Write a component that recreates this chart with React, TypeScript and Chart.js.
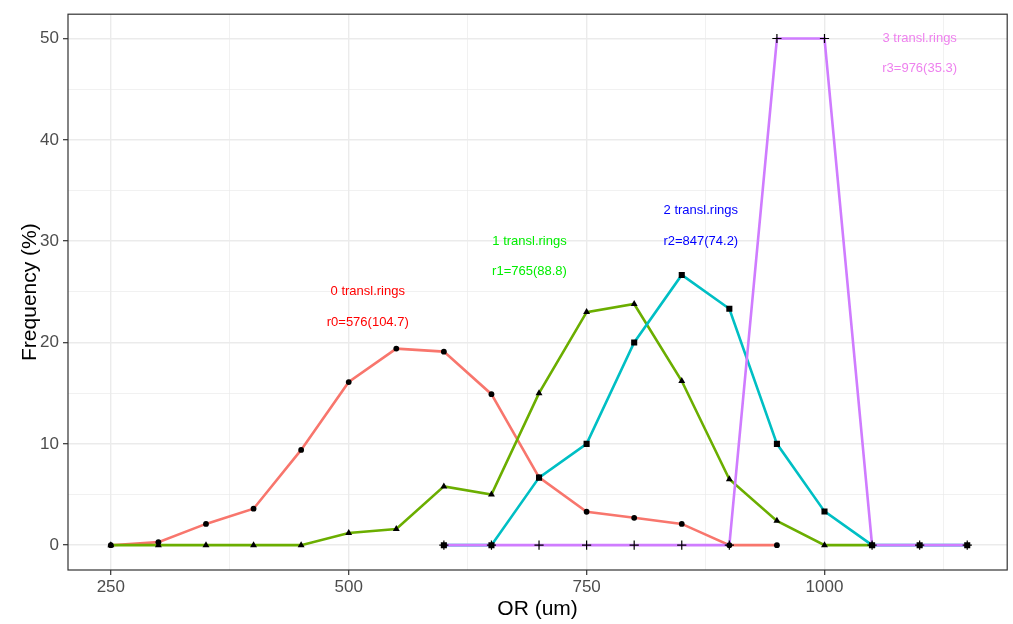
import React, { useEffect, useRef } from "react";
import { Chart, registerables } from "chart.js";

Chart.register(...registerables);

const xValues0 = [250, 300, 350, 400, 450, 500, 550, 600, 650, 700, 750, 800, 850, 900, 950];
const ring0 = [0, 0.3, 2.1, 3.6, 9.4, 16.1, 19.4, 19.1, 14.9, 6.7, 3.3, 2.7, 2.1, 0, 0];

const xValues1 = [250, 300, 350, 400, 450, 500, 550, 600, 650, 700, 750, 800, 850, 900, 950, 1000, 1050];
const ring1 = [0, 0, 0, 0, 0, 1.2, 1.6, 5.8, 5.0, 15.0, 23.0, 23.8, 16.2, 6.5, 2.4, 0, 0];

const xValues2 = [600, 650, 700, 750, 800, 850, 900, 950, 1000, 1050, 1100, 1150];
const ring2 = [0, 0, 6.67, 10, 20, 26.67, 23.33, 10, 3.33, 0, 0, 0];

const xValues3 = [600, 650, 700, 750, 800, 850, 900, 950, 1000, 1050, 1100, 1150];
const ring3 = [0, 0, 0, 0, 0, 0, 0, 50, 50, 0, 0, 0];

const seriesColors = ["#F8766D", "#6BAE00", "#00BFC4", "#CF7CFF"];
const pointStyles = ["circle", "triangle", "rect", "cross"];

const xMajorTicks = [250, 500, 750, 1000];
const xAllTicks = [250, 375, 500, 625, 750, 875, 1000, 1125];
const yAllTicks = [0, 5, 10, 15, 20, 25, 30, 35, 40, 45, 50];
const yMajorTicks = [0, 10, 20, 30, 40, 50];

const labelTitles = ["0 transl.rings", "1 transl.rings", "2 transl.rings", "3 transl.rings"];
const labelStats = ["r0=576(104.7)", "r1=765(88.8)", "r2=847(74.2)", "r3=976(35.3)"];
const labelX = [520, 690, 870, 1100];
const labelTitleY = [25, 30, 33, 50];
const labelStatY = [22, 27, 30, 47];
const labelColors = ["#FF0000", "#00EE00", "#0000FF", "#EE82EE"];

const FONT = "'Liberation Sans', Arial, sans-serif";

const toPts = (xs: number[], ys: number[]) => xs.map((x, i) => ({ x, y: ys[i] }));

export default function App() {
  const ref = useRef<HTMLCanvasElement | null>(null);

  useEffect(() => {
    if (!ref.current) return;
    const allX = [xValues0, xValues1, xValues2, xValues3];
    const allY = [ring0, ring1, ring2, ring3];

    const lineSets = allX.map((xs, i) => ({
      data: toPts(xs, allY[i]),
      showLine: true,
      borderColor: seriesColors[i],
      backgroundColor: seriesColors[i],
      borderWidth: 2.6,
      pointRadius: 0,
      tension: 0,
      fill: false,
      order: 10 - i,
    }));
    const pointSets = allX.map((xs, i) => ({
      data: toPts(xs, allY[i]),
      showLine: false,
      pointStyle: pointStyles[i],
      pointRadius: i === 0 ? 2.9 : i === 1 ? 4.0 : i === 2 ? 4.3 : 4.6,
      pointBackgroundColor: "#000000",
      pointBorderColor: "#000000",
      pointBorderWidth: i === 3 ? 1.2 : 0,
      order: 4 - i,
    }));

    const panelPlugin = {
      id: "panel",
      afterDatasetsDraw(chart: any) {
        const { ctx, chartArea, scales } = chart;
        ctx.save();
        ctx.textAlign = "center";
        ctx.textBaseline = "middle";
        ctx.font = `13px ${FONT}`;
        for (let i = 0; i < labelTitles.length; i++) {
          ctx.fillStyle = labelColors[i];
          const px = scales.x.getPixelForValue(labelX[i]);
          ctx.fillText(labelTitles[i], px, scales.y.getPixelForValue(labelTitleY[i]));
          ctx.fillText(labelStats[i], px, scales.y.getPixelForValue(labelStatY[i]));
        }
        ctx.strokeStyle = "#333333";
        ctx.lineWidth = 1.2;
        ctx.strokeRect(chartArea.left, chartArea.top, chartArea.right - chartArea.left, chartArea.bottom - chartArea.top);
        ctx.restore();
      },
    };

    const chart = new Chart(ref.current, {
      type: "scatter",
      data: { datasets: [...lineSets, ...pointSets] as any },
      options: {
        animation: false,
        responsive: false,
        layout: { padding: { left: 0, top: 10, right: 5, bottom: 0 } },
        plugins: { legend: { display: false }, tooltip: { enabled: false } },
        scales: {
          x: {
            type: "linear",
            min: 205,
            max: 1192,
            afterBuildTicks: (s: any) => {
              s.ticks = xAllTicks.map((v) => ({ value: v }));
            },
            afterFit: (s: any) => {
              s.height = 54;
            },
            ticks: {
              autoSkip: false,
              maxRotation: 0,
              padding: 2,
              color: "#4D4D4D",
              font: { family: FONT, size: 17 },
              callback: (v: any) => (xMajorTicks.includes(Number(v)) ? String(v) : ""),
            },
            grid: {
              color: "#EBEBEB",
              lineWidth: (c: any) => (xMajorTicks.includes(c.tick?.value) ? 1.4 : 0.7),
              tickColor: (c: any) => (xMajorTicks.includes(c.tick?.value) ? "#333333" : "rgba(0,0,0,0)"),
              tickLength: 5,
              tickWidth: 1.2,
            },
            border: { display: false },
            title: {
              display: true,
              text: "OR (um)",
              color: "#000000",
              font: { family: FONT, size: 21 },
              padding: { top: 0, bottom: 2 },
            },
          },
          y: {
            type: "linear",
            min: -2.45,
            max: 52.4,
            afterBuildTicks: (s: any) => {
              s.ticks = yAllTicks.map((v) => ({ value: v }));
            },
            afterFit: (s: any) => {
              s.width = 68;
            },
            ticks: {
              autoSkip: false,
              padding: 4,
              color: "#4D4D4D",
              font: { family: FONT, size: 17 },
              callback: (v: any) => (yMajorTicks.includes(Number(v)) ? String(v) : ""),
            },
            grid: {
              color: "#EBEBEB",
              lineWidth: (c: any) => (yMajorTicks.includes(c.tick?.value) ? 1.4 : 0.7),
              tickColor: (c: any) => (yMajorTicks.includes(c.tick?.value) ? "#333333" : "rgba(0,0,0,0)"),
              tickLength: 5,
              tickWidth: 1.2,
            },
            border: { display: false },
            title: {
              display: true,
              text: "Frequency (%)",
              color: "#000000",
              font: { family: FONT, size: 21 },
              padding: { top: 18, bottom: 0 },
            },
          },
        },
      },
      plugins: [panelPlugin],
    });
    return () => chart.destroy();
  }, []);

  return (
    <div style={{ position: "absolute", left: 0, top: 0, width: 1013, height: 624, background: "#fff" }}>
      <canvas ref={ref} width={1013} height={624} />
    </div>
  );
}
